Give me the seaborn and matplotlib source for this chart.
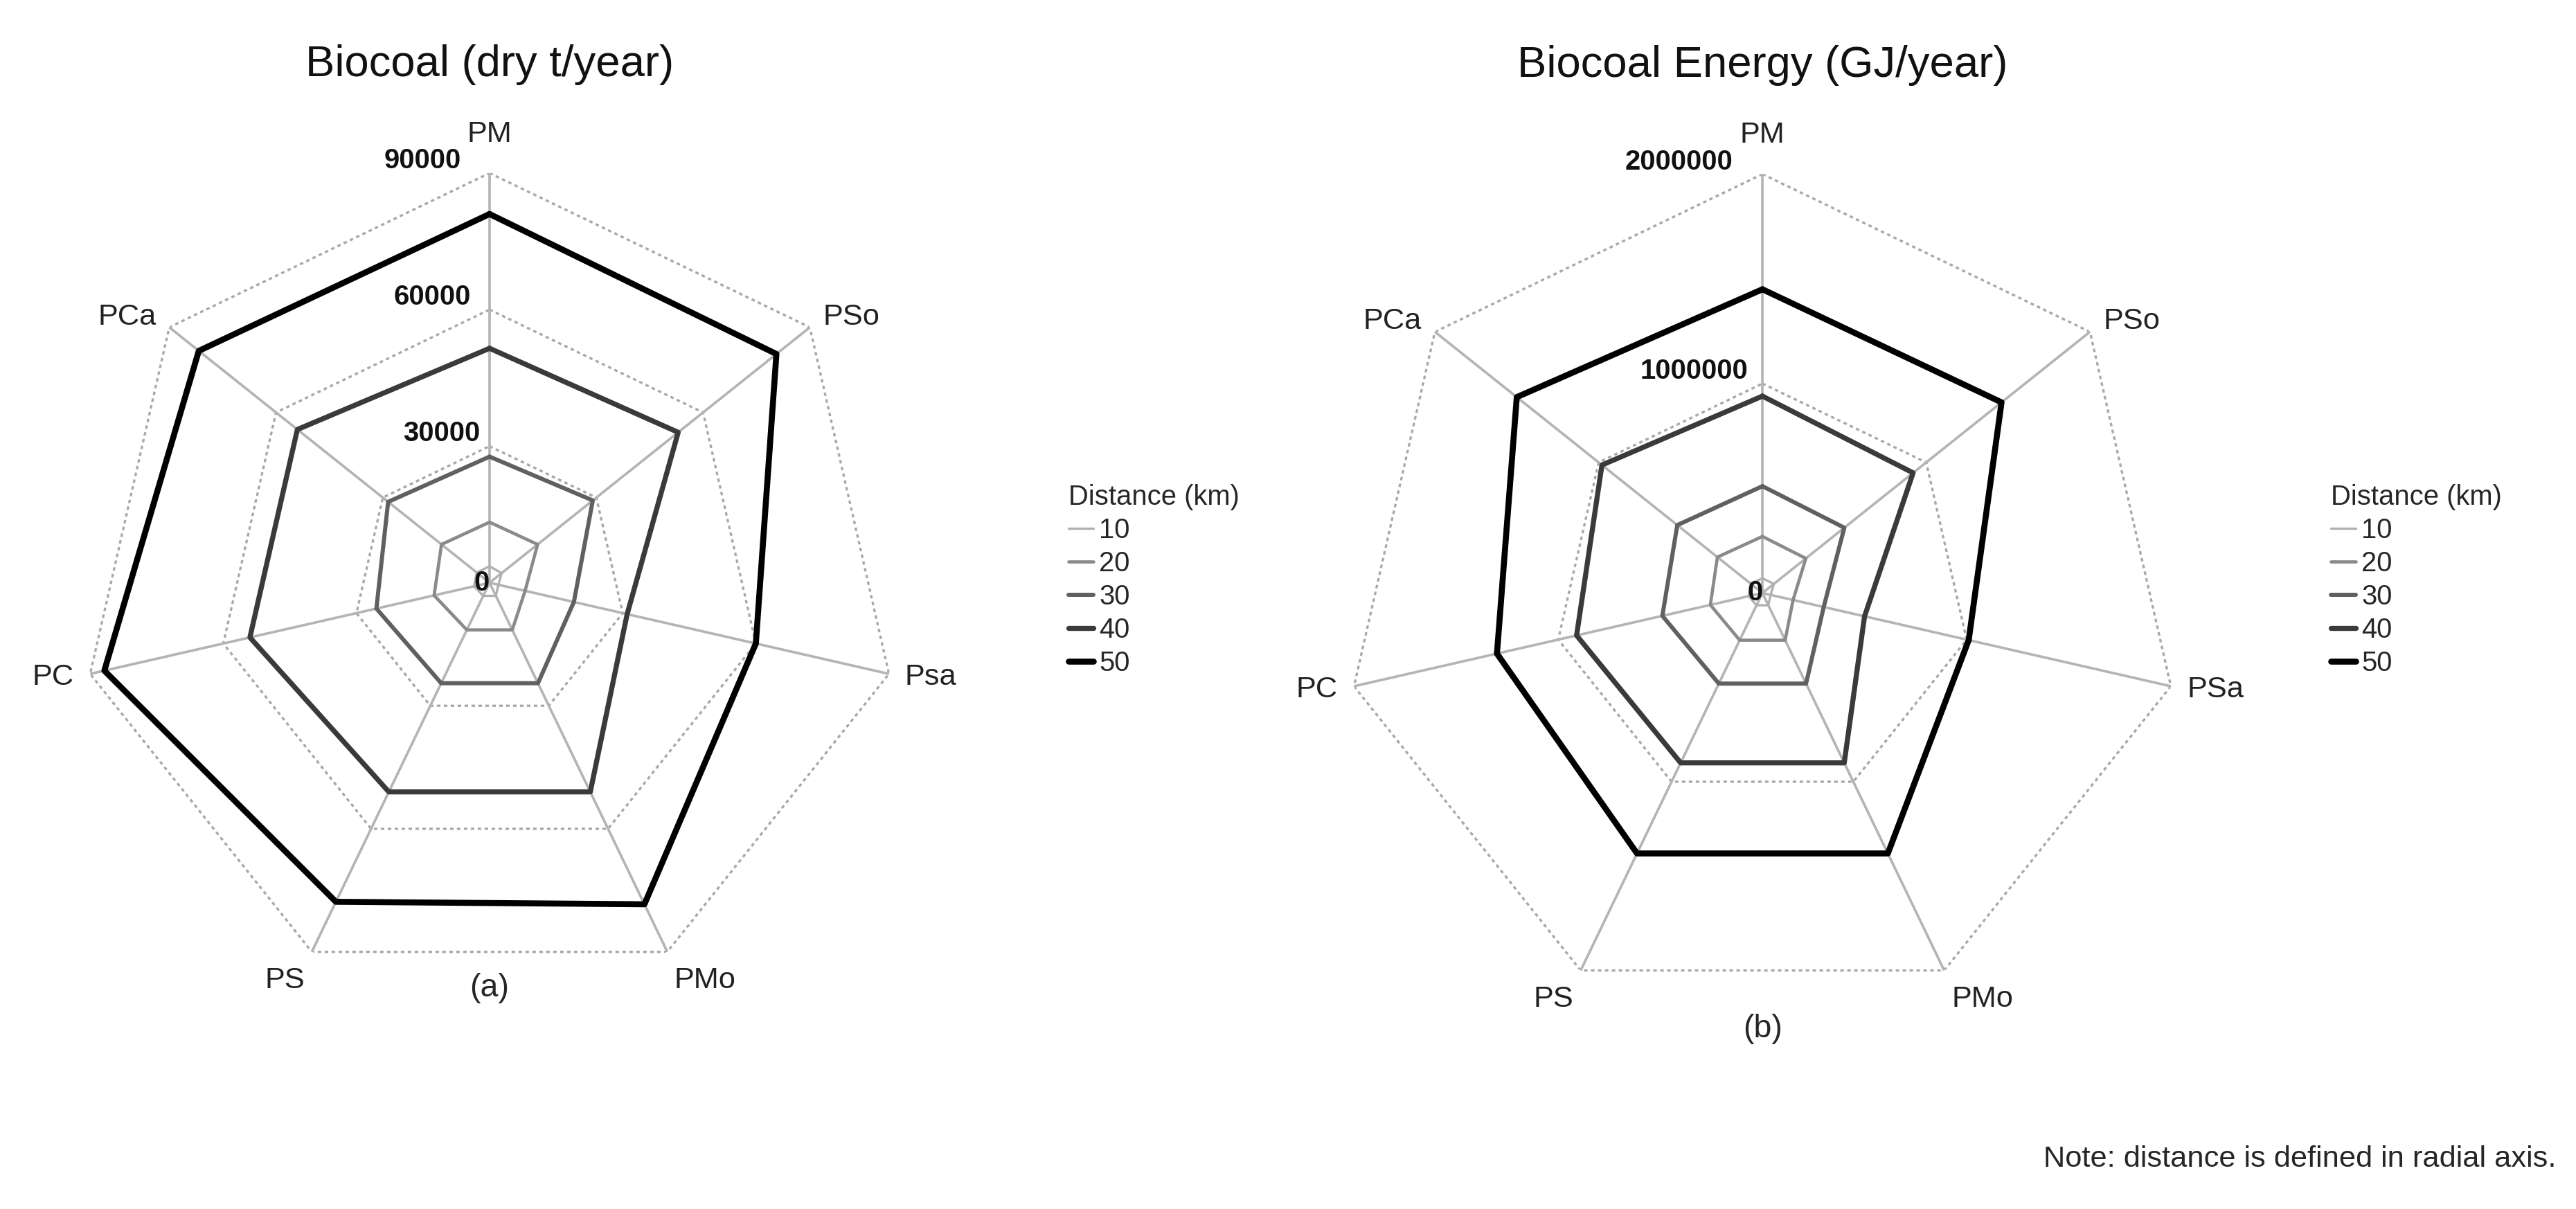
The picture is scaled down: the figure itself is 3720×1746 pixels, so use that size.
import numpy as np
import pandas as pd
import matplotlib
matplotlib.use("Agg")
import matplotlib.pyplot as plt
import seaborn as sns

sns.set_style("white")
plt.rcParams['font.family'] = ['Liberation Sans', 'DejaVu Sans']

categories_a = ["PM", "PSo", "Psa", "PMo", "PS", "PC", "PCa"]
categories_b = ["PM", "PSo", "PSa", "PMo", "PS", "PC", "PCa"]
distances = [10, 20, 30, 40, 50]

biocoal_10 = [3600, 3400, 2000, 3200, 3200, 3500, 3600]
biocoal_20 = [13300, 13500, 8000, 11500, 11500, 12500, 13500]
biocoal_30 = [27700, 29000, 19000, 24500, 24500, 25500, 28500]
biocoal_40 = [51500, 53000, 31000, 51000, 51000, 54000, 54000]
biocoal_50 = [81000, 80600, 60000, 78400, 77800, 86800, 81700]

energy_10 = [70000, 70000, 40000, 65000, 65000, 68000, 72000]
energy_20 = [270000, 265000, 150000, 250000, 250000, 255000, 275000]
energy_30 = [510000, 500000, 300000, 480000, 480000, 490000, 520000]
energy_40 = [940000, 920000, 500000, 900000, 900000, 910000, 980000]
energy_50 = [1450000, 1460000, 1010000, 1380000, 1380000, 1300000, 1500000]

ticks_a = [0, 30000, 60000, 90000]
ticks_b = [0, 1000000, 2000000]

colors = ["#b0b0b0", "#8a8a8a", "#606060", "#3a3a3a", "#000000"]
widths = [1.0, 1.4, 1.8, 2.2, 2.6]

fig = plt.figure(figsize=(15.504, 7.275), dpi=240)


def radar(rect, cats, series, ticks, title, sub, sub_r, tick_dx):
    ax = fig.add_axes(rect, projection="polar")
    ax.set_theta_zero_location("N")
    ax.set_theta_direction(-1)
    n = len(cats)
    theta = np.arange(n) * 2 * np.pi / n
    th_c = np.append(theta, theta[0])
    rmax = ticks[-1]
    ax.set_ylim(0, rmax)
    ax.grid(False)
    ax.spines["polar"].set_visible(False)
    ax.set_xticks([])
    ax.set_yticks([])
    for t in ticks[1:]:
        ax.plot(th_c, [t] * (n + 1), ls=(0, (1.5, 1.5)), color="#a8a8a8", lw=1.0, zorder=1)
    for th in theta:
        ax.plot([th, th], [0, rmax], color="#b4b4b4", lw=1.1, zorder=1)
    lines = []
    for d, vals, c, w in zip(distances, series, colors, widths):
        df = pd.DataFrame({"theta": th_c, "r": list(vals) + [vals[0]]})
        sns.lineplot(data=df, x="theta", y="r", sort=False, color=c, lw=w, ax=ax,
                     zorder=3, estimator=None)
        lines.append(plt.Line2D([], [], color=c, lw=w))
    ax.set_xlabel("")
    ax.set_ylabel("")
    ax.set_xlim(0, 2 * np.pi)
    for th, cat in zip(theta, cats):
        ha = "center"
        s = np.sin(th)
        if s > 0.3:
            ha = "left"
        elif s < -0.3:
            ha = "right"
        va = "center"
        r = rmax * 1.04
        if np.cos(th) > 0.9:
            va = "bottom"
            r = rmax * 1.06
        elif np.cos(th) < -0.5:
            va = "top"
        ax.text(th, r, cat, ha=ha, va=va, fontsize=13, color="#222222")
    for t in ticks:
        ax.text(tick_dx, t, f"{t}", ha="right", va="bottom" if t else "center",
                fontsize=12, fontweight="bold", color="#111111")
    ax.set_title(title, fontsize=19, pad=42, color="#111111")
    ax.text(np.pi, rmax * sub_r, sub, ha="center", va="center", fontsize=14)
    return ax, lines


axa, la = radar([0.031, 0.178, 0.318, 0.68], categories_a,
                [biocoal_10, biocoal_20, biocoal_30, biocoal_40, biocoal_50],
                ticks_a, "Biocoal (dry t/year)", "(a)", 0.99, -0.07)
axb, lb = radar([0.521, 0.163, 0.326, 0.693], categories_b,
                [energy_10, energy_20, energy_30, energy_40, energy_50],
                ticks_b, "Biocoal Energy (GJ/year)", "(b)", 1.04, -0.07)

for lines, x in [(la, 0.405), (lb, 0.895)]:
    leg = fig.legend(lines, [str(d) for d in distances], loc="upper left",
                     bbox_to_anchor=(x, 0.62), frameon=False, fontsize=12,
                     title="Distance (km)", title_fontsize=12, handlelength=0.9,
                     handletextpad=0.2, labelspacing=0.25, alignment="left")

fig.text(0.992, 0.03, "Note: distance is defined in radial axis.", ha="right",
         va="bottom", fontsize=13)

fig.savefig("out.png", dpi=240, facecolor="white")
